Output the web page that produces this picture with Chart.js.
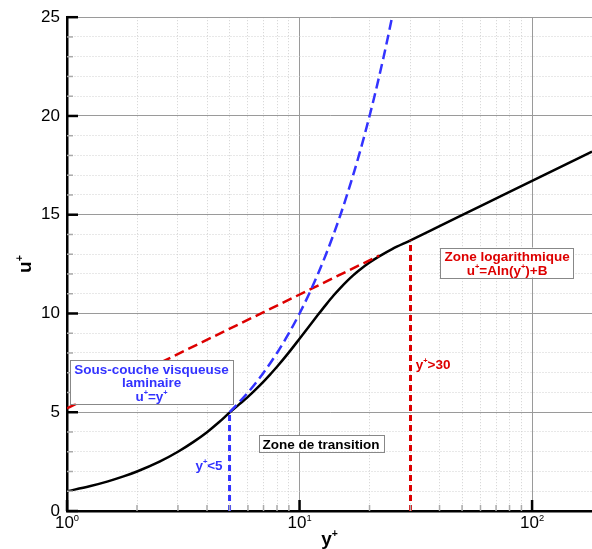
<!DOCTYPE html>
<html>
<head>
<meta charset="utf-8">
<script src="https://cdn.jsdelivr.net/npm/chart.js@4"></script>
<style>
  html, body { margin: 0; padding: 0; background: #fff; }
</style>
</head>
<body>
<canvas id="chart" width="592" height="549"></canvas>
<script>
// values (y+ on a log axis, u+ linear)
const profileX = [1, 1.25, 1.5, 1.75, 2, 2.5, 3, 3.5, 4, 4.5, 5, 5.5, 6, 6.5, 7, 7.5, 8, 9, 10, 11, 12, 13, 14, 15, 16, 17, 18, 20, 22, 25, 30, 40, 60, 100, 181];
const profileU = [1.0, 1.25, 1.5, 1.75, 2.0, 2.5, 3.0, 3.5, 3.99, 4.49, 4.98, 5.4, 5.78, 6.17, 6.55, 6.93, 7.3, 8.03, 8.72, 9.35, 9.93, 10.45, 10.91, 11.3, 11.64, 11.93, 12.18, 12.58, 12.89, 13.26, 13.7, 14.42, 15.44, 16.71, 18.2];

const viscousX = [5, 6, 7, 8, 9, 10, 11, 12, 13, 14, 15, 16, 17, 18, 19, 20, 21, 22, 23, 24, 25];
const viscousU = [5, 6, 7, 8, 9, 10, 11, 12, 13, 14, 15, 16, 17, 18, 19, 20, 21, 22, 23, 24, 25];

const logLawX = [1, 22];
const logLawU = [5.2, 12.93];

const viscLimitX = [5, 5];
const viscLimitU = [0, 5];
const logLimitX = [30, 30];
const logLimitU = [0, 13.7];

const xDecades = [1, 10, 100];
const xMinorTicks = [1, 2, 3, 4, 5, 6, 7, 8, 9, 10, 20, 30, 40, 50, 60, 70, 80, 90, 100];
const yLabelStep = 5;

const BLUE = '#3333ff';
const RED = '#dd0000';
const FONT = "'Liberation Sans', Arial, Helvetica, sans-serif";

function pts(xs, ys) {
  return xs.map((x, i) => ({x: x, y: ys[i]}));
}

// text with '^c' = superscript character c
function richParts(text) {
  const parts = [];
  for (let i = 0; i < text.length; i++) {
    if (text[i] === '^') { parts.push({t: text[i + 1], sup: true}); i++; }
    else parts.push({t: text[i], sup: false});
  }
  return parts;
}
function richWidth(ctx, text, size, weight) {
  let w = 0;
  richParts(text).forEach(p => {
    ctx.font = weight + ' ' + (p.sup ? size * 0.55 : size) + 'px ' + FONT;
    w += ctx.measureText(p.t).width;
  });
  return w;
}
// cy = vertical centre of the capitals
function drawRich(ctx, text, cx, cy, size, weight, color) {
  const w = richWidth(ctx, text, size, weight);
  let x = cx - w / 2;
  const base = cy + size * 0.36;
  ctx.fillStyle = color;
  ctx.textBaseline = 'alphabetic';
  ctx.textAlign = 'left';
  richParts(text).forEach(p => {
    const s = p.sup ? size * 0.55 : size;
    ctx.font = weight + ' ' + s + 'px ' + FONT;
    ctx.fillText(p.t, x, p.sup ? base - size * 0.42 : base);
    x += ctx.measureText(p.t).width;
  });
}

// annotations, anchored in data coordinates
const notes = [
  {x: 2.31, y: 6.54, lines: ['Sous-couche visqueuse', 'laminaire', 'u^+=y^+'], color: BLUE, box: true},
  {x: 12.37, y: 3.43, lines: ['Zone de transition'], color: '#000', box: true},
  {x: 78.1, y: 12.58, lines: ['Zone logarithmique', 'u^+=Aln(y^+)+B'], color: RED, box: true},
  {x: 4.08, y: 2.37, lines: ['y^+<5'], color: BLUE, box: false},
  {x: 37.5, y: 7.47, lines: ['y^+>30'], color: RED, box: false}
];

const decor = {
  id: 'decor',
  afterDatasetsDraw(chart) {
    const {ctx, chartArea: a, scales: {x, y}} = chart;
    ctx.save();
    // inward tick marks
    x.ticks.forEach(t => {
      const px = x.getPixelForValue(t.value);
      const major = xDecades.includes(t.value);
      ctx.strokeStyle = major ? '#000' : '#aaa';
      ctx.lineWidth = major ? 2.5 : 1.5;
      ctx.beginPath();
      ctx.moveTo(px, a.bottom);
      ctx.lineTo(px, a.bottom - (major ? 11 : 6));
      ctx.stroke();
    });
    y.ticks.forEach(t => {
      const py = y.getPixelForValue(t.value);
      const major = t.value % yLabelStep === 0;
      ctx.strokeStyle = major ? '#000' : '#aaa';
      ctx.lineWidth = major ? 2.5 : 1.5;
      ctx.beginPath();
      ctx.moveTo(a.left, py);
      ctx.lineTo(a.left + (major ? 11 : 6), py);
      ctx.stroke();
    });
    // text boxes
    const size = 13.5, lh = 13.5;
    notes.forEach(n => {
      const cx = x.getPixelForValue(n.x);
      const cy = y.getPixelForValue(n.y);
      const w = Math.max(...n.lines.map(l => richWidth(ctx, l, size, 'bold')));
      const h = n.lines.length * lh;
      if (n.box) {
        ctx.fillStyle = '#fff';
        ctx.strokeStyle = '#888';
        ctx.lineWidth = 1;
        ctx.fillRect(cx - w / 2 - 4, cy - h / 2 - 1.5, w + 8, h + 3);
        ctx.strokeRect(Math.round(cx - w / 2 - 4) + 0.5, Math.round(cy - h / 2 - 1.5) + 0.5, Math.round(w + 8), Math.round(h + 3));
      }
      n.lines.forEach((l, i) => {
        drawRich(ctx, l, cx, cy - h / 2 + lh * (i + 0.5) + 0.5, size, 'bold', n.color);
      });
    });
    ctx.restore();
  },
  afterDraw(chart) {
    const {ctx, chartArea: a, scales: {x}} = chart;
    ctx.save();
    // x tick labels 10^n
    xDecades.forEach((v, i) => {
      const px = x.getPixelForValue(v);
      drawRich(ctx, '10^' + i, px, a.bottom + 11, 17, 'normal', '#000');
    });
    // axis titles
    drawRich(ctx, 'y^+', (a.left + a.right) / 2, a.bottom + 27, 19, 'bold', '#000');
    ctx.translate(24, (a.top + a.bottom) / 2);
    ctx.rotate(-Math.PI / 2);
    drawRich(ctx, 'u^+', 0, 0, 19, 'bold', '#000');
    ctx.restore();
  }
};

const isMajorX = v => xDecades.includes(v);

new Chart(document.getElementById('chart'), {
  type: 'line',
  data: {
    datasets: [
      {data: pts(viscousX, viscousU), borderColor: BLUE, borderWidth: 2.5, borderDash: [10, 5], cubicInterpolationMode: 'monotone'},
      {data: pts(logLawX, logLawU), borderColor: RED, borderWidth: 2.5, borderDash: [10, 5]},
      {data: pts(viscLimitX, viscLimitU), borderColor: BLUE, borderWidth: 3, borderDash: [6, 4]},
      {data: pts(logLimitX, logLimitU), borderColor: RED, borderWidth: 3, borderDash: [6, 4]},
      {data: pts(profileX, profileU), borderColor: '#000', borderWidth: 2.5, cubicInterpolationMode: 'monotone'}
    ]
  },
  options: {
    responsive: false,
    animation: false,
    devicePixelRatio: 1,
    layout: {padding: {left: 0, top: 16, right: 0, bottom: 0}},
    elements: {point: {radius: 0}, line: {fill: false}},
    plugins: {legend: {display: false}, tooltip: {enabled: false}},
    scales: {
      x: {
        type: 'logarithmic',
        min: 1,
        max: 181,
        afterBuildTicks: s => { s.ticks = xMinorTicks.map(v => ({value: v, major: isMajorX(v)})); },
        afterFit: s => { s.height = 38; },
        ticks: {display: false},
        grid: {
          drawTicks: false,
          color: c => (c.tick && isMajorX(c.tick.value)) ? '#9a9a9a' : '#d0d0d0',
          lineWidth: 1
        },
        border: {
          display: true, color: '#000', width: 2.5,
          dash: c => (c.tick && !isMajorX(c.tick.value)) ? [1, 2] : []
        }
      },
      y: {
        min: 0,
        max: 25,
        afterFit: s => { s.width = 67; },
        ticks: {
          stepSize: 1,
          autoSkip: false,
          padding: 7,
          color: '#000',
          font: {family: FONT, size: 17},
          callback: v => (v % yLabelStep === 0 ? String(v) : '')
        },
        grid: {
          drawTicks: false,
          color: c => (c.tick && c.tick.value % yLabelStep === 0) ? '#9a9a9a' : '#d0d0d0',
          lineWidth: 1
        },
        border: {
          display: true, color: '#000', width: 2.5,
          dash: c => (c.tick && c.tick.value % yLabelStep !== 0) ? [1, 2] : []
        }
      }
    }
  },
  plugins: [decor]
});
</script>
</body>
</html>
